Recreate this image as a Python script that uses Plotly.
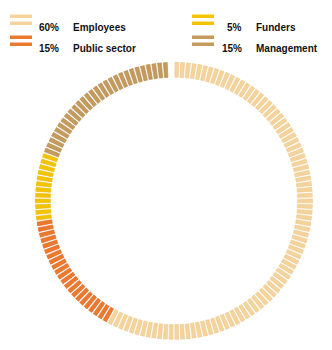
import plotly.graph_objects as go

categories = ["Employees", "Public sector", "Funders", "Management"]
shares = [58, 15, 8, 19]          # share of the ring (percent)
legend_pct = ["60%", "15%", "5%", "15%"]
colors = ["#F4D49C", "#EC7A2C", "#F5C400", "#C49B5C"]
edge = ["#EFC88A", "#E0601E", "#E8B400", "#B58A4C"]

N_TICKS = 150
step = 360.0 / N_TICKS

fig = go.Figure()
idx = 0
for cat, sh, c, e in zip(categories, shares, colors, edge):
    n = round(sh / 100 * N_TICKS)
    thetas = [(idx + k + 0.5) * step for k in range(n)]
    idx += n
    fig.add_trace(go.Barpolar(
        theta=thetas, r=[0.11] * n, base=[0.89] * n, width=[step * 0.66] * n,
        marker=dict(color=c, line=dict(color=e, width=0.6)),
        name=cat, showlegend=False, hoverinfo="skip"))

fig.update_layout(
    width=332, height=350, margin=dict(l=0, r=0, t=0, b=0),
    paper_bgcolor="white", plot_bgcolor="white",
    polar=dict(
        domain=dict(x=[0.105, 0.943], y=[0.029, 0.823]),
        bgcolor="white", hole=0,
        angularaxis=dict(visible=False, direction="clockwise", rotation=90),
        radialaxis=dict(visible=False, range=[0, 1]),
    ),
)

# manual legend, 2 x 2
rows = [20, 41, 20, 41]
sym_x = [10, 10, 192, 192]
pct_x = [61, 61, 244, 244]
for y, sx, cat, pct, c, px in zip(rows, sym_x, categories, legend_pct, colors, pct_x):
    for dy in (-5.5, 1.5):
        fig.add_shape(type="rect", xref="paper", yref="paper",
                      x0=sx / 332, x1=(sx + 22) / 332,
                      y0=1 - (y + dy + 3.5) / 350, y1=1 - (y + dy) / 350,
                      fillcolor=c, line=dict(width=0))
    fig.add_annotation(x=px / 332, y=1 - y / 350, xref="paper", yref="paper",
                       text="<b>" + pct + "</b>", showarrow=False, xanchor="right",
                       font=dict(family="Liberation Sans", size=10, color="#111"))
    fig.add_annotation(x=(px + 10) / 332, y=1 - y / 350, xref="paper", yref="paper",
                       text="<b>" + cat + "</b>", showarrow=False, xanchor="left",
                       font=dict(family="Liberation Sans", size=10, color="#111"))

fig.write_html("out.html")
